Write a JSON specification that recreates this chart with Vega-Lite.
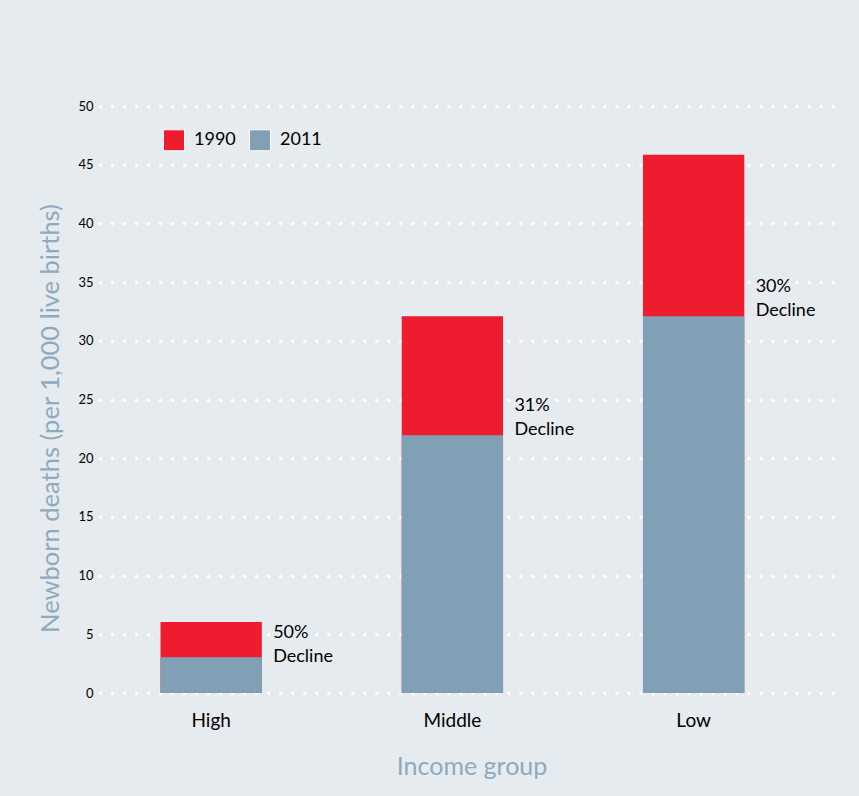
{
  "$schema": "https://vega.github.io/schema/vega-lite/v6.json",
  "width": 743,
  "height": 587,
  "autosize": {"type": "none"},
  "padding": {"left": 100, "top": 106, "right": 16, "bottom": 103},
  "background": "#e6ebef",
  "config": {
    "font": "Lato",
    "view": {"stroke": null},
    "axis": {"labelFont": "Lato", "titleFont": "Lato"}
  },
  "datasets": {
    "bars": [
      {"group": "High", "year": "1990", "deaths": 6.05},
      {"group": "Middle", "year": "1990", "deaths": 32.1},
      {"group": "Low", "year": "1990", "deaths": 45.85},
      {"group": "High", "year": "2011", "deaths": 3.05},
      {"group": "Middle", "year": "2011", "deaths": 21.95},
      {"group": "Low", "year": "2011", "deaths": 32.1}
    ],
    "notes": [
      {"group": "High", "note": "50%\nDecline", "at": 5.85},
      {"group": "Middle", "note": "31%\nDecline", "at": 25.25},
      {"group": "Low", "note": "30%\nDecline", "at": 35.35}
    ]
  },
  "encoding": {
    "x": {
      "field": "group",
      "type": "nominal",
      "sort": ["High", "Middle", "Low"],
      "scale": {"paddingInner": 0.58, "paddingOuter": 0.33, "align": 0.38},
      "axis": {
        "title": "Income group",
        "titleColor": "#8eaabf",
        "titleFontSize": 25,
        "titleFontWeight": "normal",
        "titlePadding": 24,
        "labelAngle": 0,
        "labelFontSize": 19,
        "labelColor": "#000000",
        "labelPadding": 18,
        "domain": false,
        "ticks": false
      }
    },
    "y": {
      "type": "quantitative",
      "scale": {"domain": [0, 50]},
      "axis": {
        "title": "Newborn deaths (per 1,000 live births)",
        "titleColor": "#8eaabf",
        "titleFontSize": 25.5,
        "titleFontWeight": "normal",
        "titlePadding": 14,
        "titleY": 312,
        "values": [0, 5, 10, 15, 20, 25, 30, 35, 40, 45, 50],
        "labelFontSize": 13,
        "labelColor": "#000000",
        "labelPadding": 7,
        "domain": false,
        "ticks": false,
        "grid": true,
        "gridColor": "#ffffff",
        "gridWidth": 3.5,
        "gridDash": [0.01, 12],
        "gridCap": "round",
        "gridOpacity": 1
      }
    }
  },
  "layer": [
    {
      "data": {"name": "bars"},
      "mark": {"type": "bar"},
      "encoding": {
        "y": {"field": "deaths", "type": "quantitative", "stack": null},
        "color": {
          "field": "year",
          "type": "nominal",
          "scale": {"domain": ["1990", "2011"], "range": ["#ee1c2e", "#7fa0b5"]},
          "legend": {
            "title": null,
            "orient": "none",
            "legendX": 63,
            "legendY": 23,
            "direction": "horizontal",
            "symbolType": "square",
            "symbolSize": 440,
            "symbolStrokeColor": "#ffffff",
            "symbolStrokeWidth": 1,
            "symbolOpacity": 1,
            "labelFontSize": 18,
            "labelColor": "#000000",
            "labelOffset": 9,
            "columnPadding": 11
          }
        }
      }
    },
    {
      "data": {"name": "notes"},
      "mark": {
        "type": "text",
        "align": "left",
        "baseline": "top",
        "dx": 62,
        "fontSize": 18,
        "lineHeight": 24,
        "lineBreak": "\n",
        "color": "#000000"
      },
      "encoding": {
        "y": {"field": "at", "type": "quantitative"},
        "text": {"field": "note"}
      }
    }
  ]
}
